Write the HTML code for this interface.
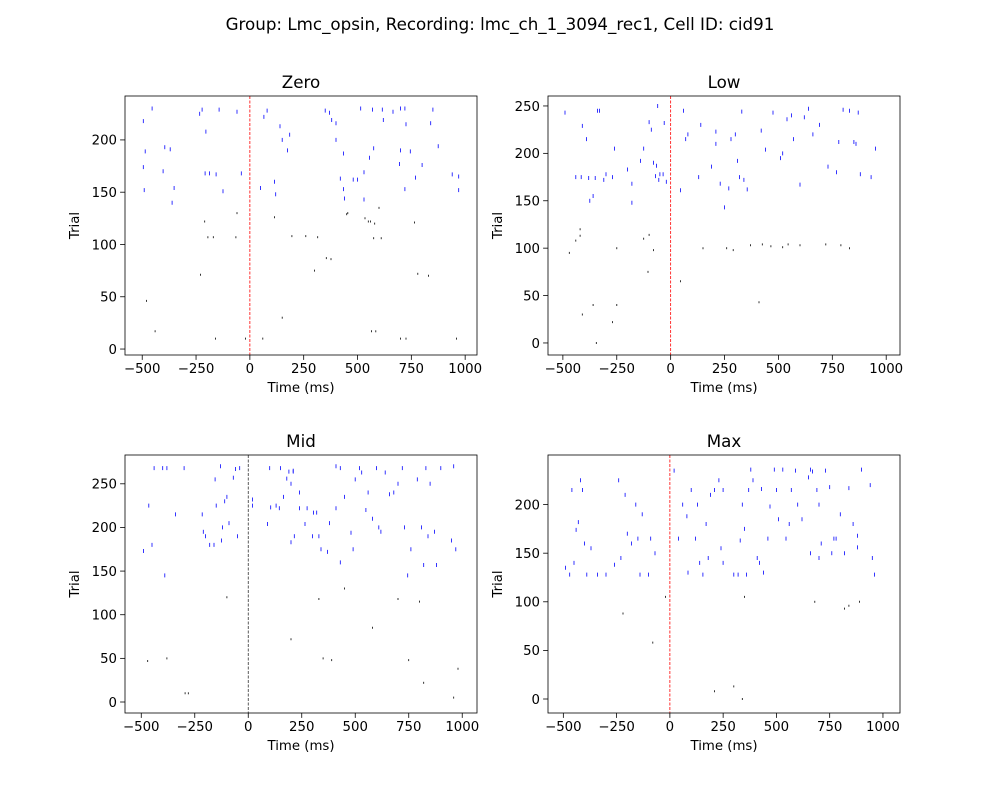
<!DOCTYPE html>
<html><head><meta charset="utf-8"><style>
body{margin:0;background:#fff;}
svg text{font-family:"DejaVu Sans","Liberation Sans",sans-serif;}
</style></head><body>
<svg id="fig" width="1000" height="800" viewBox="0 0 1000 800" xmlns="http://www.w3.org/2000/svg">
<rect width="1000" height="800" fill="#fff"/>
<text x="500" y="30" text-anchor="middle" font-size="16.7">Group: Lmc_opsin, Recording: lmc_ch_1_3094_rec1, Cell ID: cid91</text>
</svg>
<script>
const xTicks=[-500,-250,0,250,500,750,1000];
const zeroSpikes=[[-495,218],[-486,189],[-454,230],[-440,17],[-491,152],[-495,174],[-403,170],[-370,191],[-352,154],[-361,140],[-395,193],[-480,46],[-233,225],[-222,229],[-143,229],[-204,208],[-208,168],[-188,168],[-157,167],[-125,151],[-60,227],[-60,130],[-40,168],[-210,122],[-195,107],[-170,107],[-160,10],[-230,71],[-65,107],[-20,10],[50,154],[65,222],[80,228],[115,126],[115,160],[120,148],[140,213],[150,200],[175,190],[185,205],[195,108],[260,108],[300,75],[315,107],[355,87],[377,86],[60,10],[150,30],[350,228],[370,226],[380,219],[400,216],[435,187],[400,200],[420,163],[440,144],[450,129],[455,130],[515,230],[570,229],[555,183],[530,169],[575,192],[600,135],[580,120],[575,106],[615,229],[620,219],[700,230],[665,227],[720,230],[725,215],[745,189],[700,190],[770,164],[800,176],[850,229],[840,216],[875,194],[940,167],[970,165],[970,152],[585,17],[565,17],[700,10],[725,10],[780,72],[830,70],[960,10],[560,122],[610,106],[480,162],[500,162],[530,143],[435,153],[535,125],[550,122],[695,177],[720,153],[765,121]];
const lowSpikes=[[-490,243],[-415,175],[-440,175],[-410,229],[-390,215],[-380,174],[-350,174],[-330,245],[-340,245],[-360,155],[-375,150],[-300,178],[-310,172],[-270,175],[-260,205],[-200,183],[-180,168],[-180,148],[-140,192],[-125,205],[-100,233],[-90,225],[-80,190],[-65,187],[-70,176],[-50,178],[-35,178],[-30,232],[-20,170],[-55,172],[-60,250],[60,245],[70,215],[80,220],[45,161],[130,175],[140,230],[190,186],[210,210],[210,223],[230,168],[250,143],[270,163],[280,215],[300,220],[310,192],[320,175],[340,172],[330,244],[355,162],[420,224],[440,204],[475,243],[510,195],[520,200],[540,236],[560,240],[570,215],[600,167],[620,238],[640,247],[660,220],[690,230],[730,186],[770,180],[780,212],[800,246],[830,245],[850,212],[860,210],[870,243],[880,178],[930,175],[950,205],[-470,95],[-420,120],[-360,40],[-410,30],[-345,0],[-270,22],[-250,40],[-250,100],[-125,110],[-100,114],[-105,75],[-80,98],[45,65],[150,100],[260,100],[290,98],[370,103],[410,43],[425,104],[465,102],[520,101],[545,104],[600,103],[720,104],[790,103],[830,100],[-440,108],[-420,113]];
const midSpikes=[[-490,173],[-470,47],[-465,225],[-450,180],[-440,268],[-400,268],[-380,268],[-390,145],[-340,215],[-300,268],[-295,10],[-380,50],[-215,215],[-210,195],[-200,190],[-180,180],[-160,180],[-155,255],[-130,270],[-150,225],[-110,230],[-125,185],[-120,200],[-100,235],[-90,205],[-70,257],[-40,268],[-50,190],[-100,120],[-60,267],[20,232],[20,225],[90,204],[100,268],[105,223],[130,225],[145,222],[150,268],[165,235],[180,256],[190,264],[210,264],[210,265],[200,250],[215,190],[200,183],[240,240],[240,222],[265,204],[275,222],[305,217],[320,217],[330,190],[380,205],[410,222],[430,268],[450,235],[480,194],[490,175],[500,255],[520,268],[530,263],[550,220],[560,240],[580,210],[600,268],[610,200],[620,195],[640,263],[660,238],[680,240],[700,250],[720,268],[730,200],[760,175],[790,255],[810,200],[830,268],[850,250],[870,195],[880,157],[900,268],[950,185],[970,175],[960,270],[820,157],[840,190],[745,145],[330,118],[450,130],[580,85],[700,118],[200,72],[350,50],[390,48],[800,115],[750,48],[820,22],[960,5],[980,38],[-280,10],[410,270],[300,190],[430,160],[340,175],[370,172]];
const maxSpikes=[[-490,135],[-470,128],[-460,215],[-450,140],[-440,174],[-430,182],[-420,225],[-410,215],[-400,160],[-390,128],[-370,155],[-340,128],[-300,128],[-260,138],[-240,225],[-230,145],[-210,210],[-200,170],[-180,160],[-160,200],[-150,165],[-140,128],[-130,190],[-100,128],[-90,165],[-70,150],[-220,88],[-80,58],[-20,105],[20,235],[40,165],[60,200],[80,188],[85,130],[100,215],[120,165],[130,200],[140,140],[155,128],[170,180],[180,145],[190,210],[210,215],[230,225],[240,155],[250,140],[300,128],[320,128],[330,163],[340,200],[350,175],[360,128],[370,215],[380,236],[390,225],[410,145],[420,140],[430,216],[440,130],[460,165],[470,198],[490,236],[500,215],[510,185],[530,236],[545,165],[560,180],[570,215],[590,235],[600,200],[620,185],[650,228],[660,236],[670,234],[690,215],[700,200],[710,160],[730,235],[750,218],[760,150],[780,165],[800,190],[820,150],[840,217],[860,180],[880,168],[900,236],[940,220],[950,145],[960,128],[660,150],[680,100],[700,145],[770,165],[820,93],[890,100],[840,96],[880,156],[210,8],[300,13],[340,0],[350,105],[250,215]];

const NS="http://www.w3.org/2000/svg";
const svg=document.getElementById('fig');
function mk(tag,attrs,parent){const e=document.createElementNS(NS,tag);for(const k in attrs)e.setAttribute(k,attrs[k]);(parent||svg).appendChild(e);return e;}

const panels=[
 {title:'Zero',key:'zero',data:zeroSpikes,L:125,R:477,T:96,B:355,xmin:-580,xmax:1055,ymin:-5.7,ymax:242,yTicks:[0,50,100,150,200],thr:140,vcol:'#ff0000'},
 {title:'Low',key:'low',data:lowSpikes,L:548,R:900,T:96,B:355,xmin:-569,xmax:1064,ymin:-12.7,ymax:260.5,yTicks:[0,50,100,150,200,250],thr:140,vcol:'#ff0000'},
 {title:'Mid',key:'mid',data:midSpikes,L:125,R:477,T:455,B:713,xmin:-576,xmax:1069,ymin:-12.6,ymax:283,yTicks:[0,50,100,150,200,250],thr:140,vcol:'#333333'},
 {title:'Max',key:'max',data:maxSpikes,L:548,R:900,T:455,B:713,xmin:-572,xmax:1080,ymin:-14.4,ymax:251,yTicks:[0,50,100,150,200],thr:125,vcol:'#ff0000'}
];

panels.forEach(p=>{
  const g=mk('g',{});
  
  
  const sx=v=>p.L+(v-p.xmin)/(p.xmax-p.xmin)*(p.R-p.L);
  const sy=v=>p.B-(v-p.ymin)/(p.ymax-p.ymin)*(p.B-p.T);
  p.data.forEach(d=>{
    const blue=d[1]>=p.thr;
    const x=sx(d[0]),y=sy(d[1]);
    const h=blue?4:2;
    const r=mk('line',{x1:x.toFixed(1),x2:x.toFixed(1),y1:(y-h/2).toFixed(1),y2:(y+h/2).toFixed(1),stroke:blue?'#0000ff':'#000','stroke-width':0.8},g);
    
    
  });
  const vx=sx(0);
  const vl=mk('line',{x1:vx,x2:vx,y1:p.T,y2:p.B,stroke:p.vcol,'stroke-width':0.8,'stroke-dasharray':'3,1.5'},g);
  
  
  const fr=mk('rect',{x:p.L,y:p.T,width:p.R-p.L,height:p.B-p.T,fill:'none',stroke:'#000','stroke-width':0.8},g);
  
  
  xTicks.forEach(t=>{
    const x=sx(t);
    mk('line',{x1:x,x2:x,y1:p.B,y2:p.B+4.9,stroke:'#000','stroke-width':0.8},g);
    const tx=mk('text',{x:x,y:p.B+18,'text-anchor':'middle','font-size':'13.3'},g);
    tx.textContent=t<0?'\u2212'+Math.abs(t):String(t);
    
    
  });
  p.yTicks.forEach(t=>{
    const y=sy(t);
    mk('line',{x1:p.L-4.9,x2:p.L,y1:y,y2:y,stroke:'#000','stroke-width':0.8},g);
    const tx=mk('text',{x:p.L-8,y:y+4.8,'text-anchor':'end','font-size':'13.3'},g);
    tx.textContent=String(t);
    
    
  });
  const ti=mk('text',{x:(p.L+p.R)/2,y:p.T-8,'text-anchor':'middle','font-size':'16.7'},g);
  ti.textContent=p.title;
  
  
  const xl=mk('text',{x:(p.L+p.R)/2,y:p.B+37,'text-anchor':'middle','font-size':'13.3'},g);
  xl.textContent='Time (ms)';
  
  
  const yx=p.L-46,yy=(p.T+p.B)/2;
  const yl=mk('text',{x:yx,y:yy,'text-anchor':'middle','font-size':'13.3',transform:`rotate(-90 ${yx} ${yy})`},g);
  yl.textContent='Trial';
  
  
});
</script>
</body></html>
